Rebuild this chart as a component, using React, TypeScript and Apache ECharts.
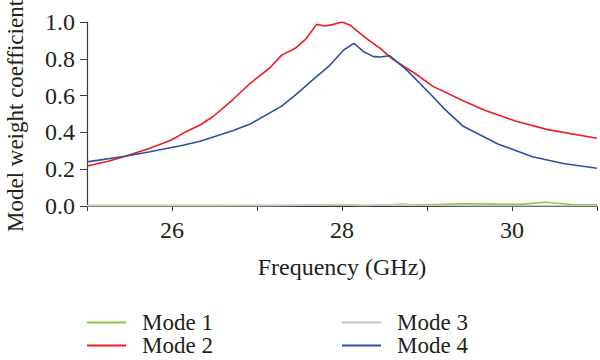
import React, { useEffect, useRef } from "react";
import * as echarts from "echarts";

const mode1Freq = [25.0, 26.0, 27.0, 27.5, 28.0, 28.3, 28.7, 29.0, 29.4, 29.8, 30.1, 30.4, 30.7, 31.0];
const mode1Val = [0.002, 0.002, 0.003, 0.004, 0.006, 0.003, 0.008, 0.006, 0.012, 0.01, 0.009, 0.02, 0.008, 0.006];

const mode2Freq = [25.0, 25.25, 25.45, 25.74, 26.0, 26.13, 26.33, 26.48, 26.72, 26.92, 27.15, 27.29, 27.45, 27.58, 27.7, 27.8, 27.9, 28.0, 28.09, 28.29, 28.45, 28.59, 28.86, 29.07, 29.45, 29.68, 30.04, 30.42, 31.0];
const mode2Val = [0.217, 0.243, 0.27, 0.314, 0.36, 0.395, 0.44, 0.485, 0.58, 0.667, 0.75, 0.82, 0.857, 0.91, 0.987, 0.978, 0.987, 1.0, 0.984, 0.91, 0.857, 0.8, 0.72, 0.65, 0.567, 0.52, 0.462, 0.415, 0.368];

const mode3Freq = [25.0, 27.0, 27.8, 28.0, 28.2, 28.5, 28.7, 28.9, 29.5, 31.0];
const mode3Val = [0.001, 0.002, 0.006, 0.008, 0.003, 0.006, 0.01, 0.004, 0.002, 0.001];

const mode4Freq = [25.0, 25.45, 25.74, 26.13, 26.33, 26.45, 26.72, 26.92, 27.29, 27.45, 27.7, 27.86, 28.02, 28.14, 28.25, 28.37, 28.45, 28.56, 28.76, 29.07, 29.21, 29.42, 29.84, 30.24, 30.62, 31.0];
const mode4Val = [0.24, 0.27, 0.295, 0.33, 0.352, 0.37, 0.41, 0.445, 0.543, 0.603, 0.703, 0.766, 0.848, 0.884, 0.84, 0.812, 0.81, 0.817, 0.74, 0.594, 0.525, 0.435, 0.336, 0.268, 0.23, 0.205];

const xTickLabels = ["26", "28", "30"];
const seriesNames = ["Mode 1", "Mode 2", "Mode 3", "Mode 4"];
const seriesColors = ["#8cc63f", "#ee1c25", "#c8c8c8", "#2e4fa3"];

const FONT = "Liberation Serif";
const TEXT = "#231f20";

function zip(xs: number[], ys: number[]) {
  return xs.map((x, i) => [x, ys[i]]);
}

export default function App() {
  const ref = useRef<HTMLDivElement>(null);
  useEffect(() => {
    if (!ref.current) return;
    const chart = echarts.init(ref.current, undefined, { renderer: "svg" });
    const data = [
      zip(mode1Freq, mode1Val),
      zip(mode2Freq, mode2Val),
      zip(mode3Freq, mode3Val),
      zip(mode4Freq, mode4Val),
    ];
    const legendText = {
      fontFamily: FONT,
      fontSize: 23,
      color: TEXT,
      padding: [0, 0, 0, 11],
    };
    const legendPos = [
      { left: 87, top: 311 },
      { left: 87, top: 334 },
      { left: 342, top: 311 },
      { left: 342, top: 334 },
    ];
    chart.setOption({
      animation: false,
      backgroundColor: "#ffffff",
      grid: { left: 87, right: 2, top: 22, bottom: 154 },
      legend: seriesNames.map((name, i) => ({
        orient: "horizontal",
        left: legendPos[i].left,
        top: legendPos[i].top,
        padding: 0,
        itemWidth: 39,
        itemHeight: 2,
        icon: "rect",
        data: [name],
        textStyle: legendText,
      })),
      graphic: [
        {
          type: "text",
          x: 4,
          y: 232,
          rotation: Math.PI / 2,
          style: {
            text: "Model weight coefficient",
            font: `23px "${FONT}"`,
            fill: TEXT,
            textAlign: "left",
            textVerticalAlign: "top",
          },
        },
      ],
      xAxis: {
        type: "value",
        min: 25,
        max: 31,
        interval: 1,
        name: "Frequency (GHz)",
        nameLocation: "middle",
        nameGap: 49,
        nameTextStyle: { fontFamily: FONT, fontSize: 24, color: TEXT },
        axisLine: { lineStyle: { color: "#3a3a3a", width: 1.2 } },
        axisTick: { show: true, length: 5, lineStyle: { color: "#3a3a3a" } },
        axisLabel: {
          fontFamily: FONT,
          fontSize: 24,
          color: TEXT,
          margin: 12,
          formatter: (v: number) => (xTickLabels.includes(String(v)) ? String(v) : ""),
        },
        splitLine: { show: false },
      },
      yAxis: {
        type: "value",
        min: 0,
        max: 1,
        interval: 0.2,
        axisLine: { show: true, lineStyle: { color: "#3a3a3a", width: 1.2 } },
        axisTick: { show: true, length: 7, lineStyle: { color: "#3a3a3a" } },
        axisLabel: {
          fontFamily: FONT,
          fontSize: 24,
          color: TEXT,
          margin: 12,
          formatter: (v: number) => v.toFixed(1),
        },
        splitLine: { show: false },
      },
      series: seriesNames.map((name, i) => ({
        name,
        type: "line",
        data: data[i],
        showSymbol: false,
        symbol: "none",
        color: seriesColors[i],
        lineStyle: { color: seriesColors[i], width: 1.6 },
        z: i === 0 || i === 2 ? 3 : 2,
      })),
    });
    return () => chart.dispose();
  }, []);
  return (
    <div
      ref={ref}
      style={{ position: "fixed", left: 0, top: 0, width: 600, height: 360 }}
    />
  );
}
